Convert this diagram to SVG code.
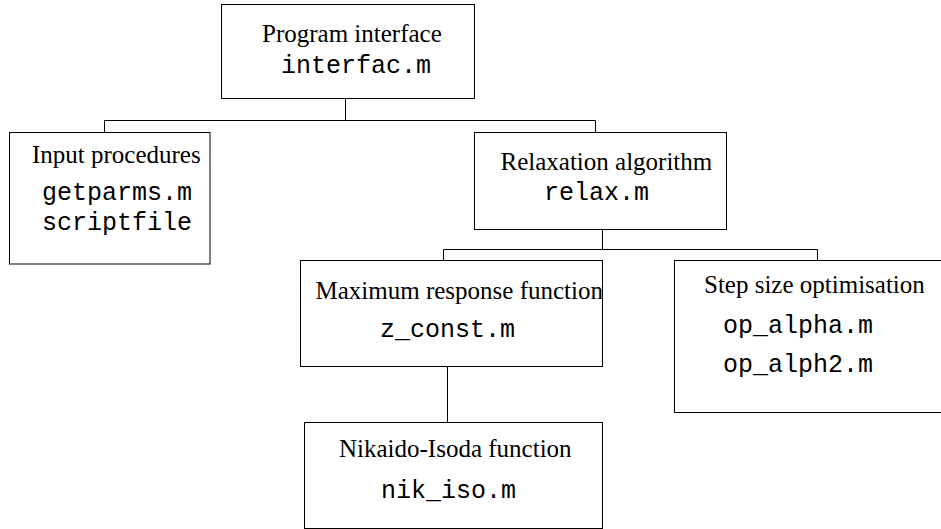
<svg xmlns="http://www.w3.org/2000/svg" width="941" height="529" viewBox="0 0 941 529">
  <style>
    .box { fill: #fff; stroke: #000; stroke-width: 1; }
    .link { fill: none; stroke: #000; stroke-width: 1; }
    .title { font-family: "Liberation Serif", "Times New Roman", serif; font-size: 25px; fill: #000; }
    .file { font-family: "Liberation Mono", "Courier New", monospace; font-size: 25px; fill: #000; }
  </style>
  <rect width="941" height="529" fill="#fff"/>

  <!-- tree connectors -->
  <g id="connectors" class="link">
    <path d="M345.5 98.5 V120.5"/>
    <path d="M104.5 132.5 V120.5 H595.5 V132.5"/>
    <path d="M602.5 229.5 V249.5"/>
    <path d="M443.5 260.5 V249.5 H817.5 V260.5"/>
    <path d="M447.5 366.5 V422.5"/>
  </g>

  <g id="program-interface">
    <rect class="box" x="221.5" y="4.5" width="253" height="94"/>
    <text class="title" x="262" y="42">Program interface</text>
    <text class="file" x="281" y="73">interfac.m</text>
  </g>

  <g id="input-procedures">
    <rect class="box" x="9.5" y="132.5" width="200.5" height="131.5"/>
    <text class="title" x="32" y="163">Input procedures</text>
    <text class="file" x="42" y="200">getparms.m</text>
    <text class="file" x="42" y="230">scriptfile</text>
  </g>

  <g id="relaxation-algorithm">
    <rect class="box" x="474.5" y="132.5" width="252" height="97"/>
    <text class="title" x="500.5" y="170">Relaxation algorithm</text>
    <text class="file" x="544" y="200">relax.m</text>
  </g>

  <g id="maximum-response">
    <rect class="box" x="300.5" y="260.5" width="302" height="106"/>
    <text class="title" x="315.5" y="299">Maximum response function</text>
    <text class="file" x="380" y="337">z_const.m</text>
  </g>

  <g id="step-size">
    <rect class="box" x="674.5" y="260.5" width="272" height="152"/>
    <text class="title" x="704" y="293">Step size optimisation</text>
    <text class="file" x="723" y="333">op_alpha.m</text>
    <text class="file" x="723" y="372">op_alph2.m</text>
  </g>

  <g id="nikaido-isoda">
    <rect class="box" x="304.5" y="422.5" width="298" height="106"/>
    <text class="title" x="339" y="457">Nikaido-Isoda function</text>
    <text class="file" x="381" y="498">nik_iso.m</text>
  </g>
</svg>
